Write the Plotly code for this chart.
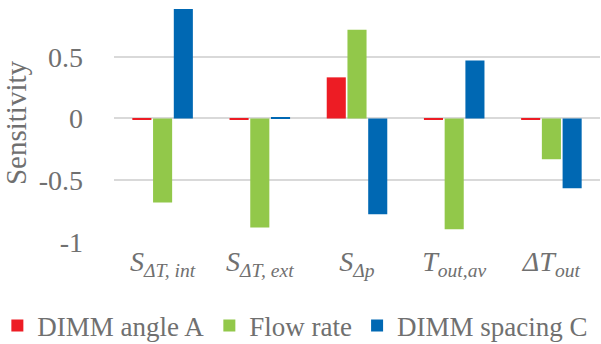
import plotly.graph_objects as go

categories = [
    "<i>S</i><sub><i>ΔT, int</i></sub>",
    "<i>S</i><sub><i>ΔT, ext</i></sub>",
    "<i>S</i><sub><i>Δp</i></sub>",
    "<i>T</i><sub><i>out,av</i></sub>",
    "<i>ΔT</i><sub><i>out</i></sub>",
]
series_names = ["DIMM angle A", "Flow rate", "DIMM spacing C"]
angle_a = [-0.012, -0.012, 0.333, -0.012, -0.012]
flow_rate = [-0.68, -0.883, 0.718, -0.897, -0.33]
spacing_c = [0.886, 0.01, -0.775, 0.469, -0.564]
colors = ["#ED1C24", "#92C84A", "#0068B3"]
y_ticks = [-1, -0.5, 0, 0.5]
y_tick_text = ["-1", "-0.5", "0", "0.5"]

serif = "Liberation Serif"
grey = "#707070"

fig = go.Figure()
for name, vals, col in zip(series_names, [angle_a, flow_rate, spacing_c], colors):
    fig.add_trace(go.Bar(x=categories, y=vals, name=name, marker_color=col,
                         marker_line_width=0))

fig.update_layout(
    width=601, height=344,
    margin=dict(l=114, r=1, t=4, b=102, autoexpand=False),
    paper_bgcolor="white", plot_bgcolor="white",
    barmode="group", bargap=0.36, bargroupgap=0.08,
    font=dict(family=serif, color=grey, size=25),
    showlegend=True,
    legend=dict(orientation="h", x=-0.24, xanchor="left", y=-0.25, yanchor="top",
                bgcolor="rgba(0,0,0,0)",
                font=dict(family=serif, size=27, color=grey),
                tracegroupgap=0, itemwidth=30),
    yaxis=dict(range=[-1, 0.927], tickvals=y_ticks, ticktext=y_tick_text,
               showgrid=True, gridcolor="#d9d9d9", gridwidth=1.5,
               zeroline=False, showline=False, ticks="", ticklen=0,
               ticklabelstandoff=30,
               tickfont=dict(family=serif, size=28, color=grey),
               title=dict(text="Sensitivity", font=dict(family=serif, size=29, color=grey),
                          standoff=4)),
    xaxis=dict(showgrid=False, showline=False, ticks="", zeroline=False, tickangle=0,
               tickfont=dict(family=serif, size=28, color=grey)),
)

fig.write_html("out.html")
